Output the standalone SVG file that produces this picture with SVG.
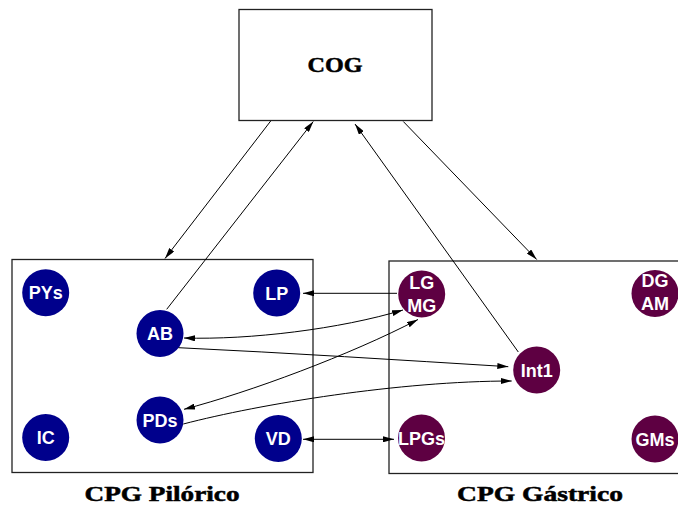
<svg xmlns="http://www.w3.org/2000/svg" width="678" height="507" viewBox="0 0 678 507">
<style>
.box{fill:#fff;stroke:#222;stroke-width:1.3}
.pyl{fill:#00008c}
.gas{fill:#5e0042}
.nt{font-family:"Liberation Sans",Arial,sans-serif;font-weight:bold;font-size:18px;fill:#fff;text-anchor:middle}
.tt{font-family:"Liberation Serif","Times New Roman",serif;font-weight:bold;font-size:22px;fill:#000;stroke:#000;stroke-width:0.5;text-anchor:middle}
.c{fill:none;stroke:#000;stroke-width:1}
</style>
<defs>
<marker id="ah" viewBox="0 0 11 6" refX="11" refY="3" markerWidth="11" markerHeight="6" markerUnits="userSpaceOnUse" orient="auto-start-reverse">
<path d="M0,0 L11,3 L0,6 z" fill="#000"/>
</marker>
</defs>
<g id="cog">
<rect class="box" x="239" y="9.5" width="193" height="111"/>
<text class="tt" x="335" y="72" textLength="55" lengthAdjust="spacingAndGlyphs">COG</text>
</g>
<g id="cpg-pilorico">
<rect class="box" x="12" y="259.5" width="301" height="213"/>
<text class="tt" x="162" y="501" textLength="155" lengthAdjust="spacingAndGlyphs">CPG Pilórico</text>
</g>
<g id="cpg-gastrico">
<rect class="box" x="389" y="261" width="300" height="212.5"/>
<text class="tt" x="540" y="501" textLength="166" lengthAdjust="spacingAndGlyphs">CPG Gástrico</text>
</g>
<g id="PYs"><circle class="pyl" cx="45.7" cy="292.7" r="23.5"/><text class="nt" x="45.7" y="299.2">PYs</text></g>
<g id="LP"><circle class="pyl" cx="276.7" cy="293" r="23.5"/><text class="nt" x="276.7" y="299.5">LP</text></g>
<g id="AB"><circle class="pyl" cx="160" cy="333.5" r="23.5"/><text class="nt" x="160" y="340">AB</text></g>
<g id="PDs"><circle class="pyl" cx="160" cy="420" r="23.5"/><text class="nt" x="160" y="426.5">PDs</text></g>
<g id="IC"><circle class="pyl" cx="45.7" cy="437.5" r="23.5"/><text class="nt" x="45.7" y="444">IC</text></g>
<g id="VD"><circle class="pyl" cx="278.3" cy="438.5" r="23.5"/><text class="nt" x="278.3" y="445">VD</text></g>
<g id="LG-MG"><circle class="gas" cx="421.7" cy="294" r="23.5"/><text class="nt" x="421.7" y="288.5">LG</text><text class="nt" x="421.7" y="311.5">MG</text></g>
<g id="DG-AM"><circle class="gas" cx="655" cy="293.5" r="23.5"/><text class="nt" x="655" y="287">DG</text><text class="nt" x="655" y="310">AM</text></g>
<g id="Int1"><circle class="gas" cx="536.7" cy="370" r="23.5"/><text class="nt" x="536.7" y="376.5">Int1</text></g>
<g id="LPGs"><circle class="gas" cx="421.5" cy="438" r="23.5"/><text class="nt" x="421.5" y="444.5">LPGs</text></g>
<g id="GMs"><circle class="gas" cx="655" cy="439" r="23.5"/><text class="nt" x="655" y="445.5">GMs</text></g>
<g id="connectors">
<path class="c" d="M270.7,121 L165,258.5" marker-end="url(#ah)"/>
<path class="c" d="M166.7,309.3 L313.3,121.5" marker-end="url(#ah)"/>
<path class="c" d="M518.3,352 L355,124" marker-end="url(#ah)"/>
<path class="c" d="M403.3,121.5 L536.7,259.5" marker-end="url(#ah)"/>
<path class="c" d="M397,293.3 L303,293.3" marker-end="url(#ah)"/>
<path class="c" d="M184,338 C250,340 340,329 403,310" marker-start="url(#ah)" marker-end="url(#ah)"/>
<path class="c" d="M184,409.3 C250,392 350,355 418,319.5" marker-start="url(#ah)" marker-end="url(#ah)"/>
<path class="c" d="M178.5,347.7 C290,353 400,360 508.3,366.7" marker-end="url(#ah)"/>
<path class="c" d="M183.3,424 C260,404 400,381 511.7,381" marker-end="url(#ah)"/>
<path class="c" d="M303,439.3 L394,439.3" marker-start="url(#ah)" marker-end="url(#ah)"/>
</g>
</svg>
